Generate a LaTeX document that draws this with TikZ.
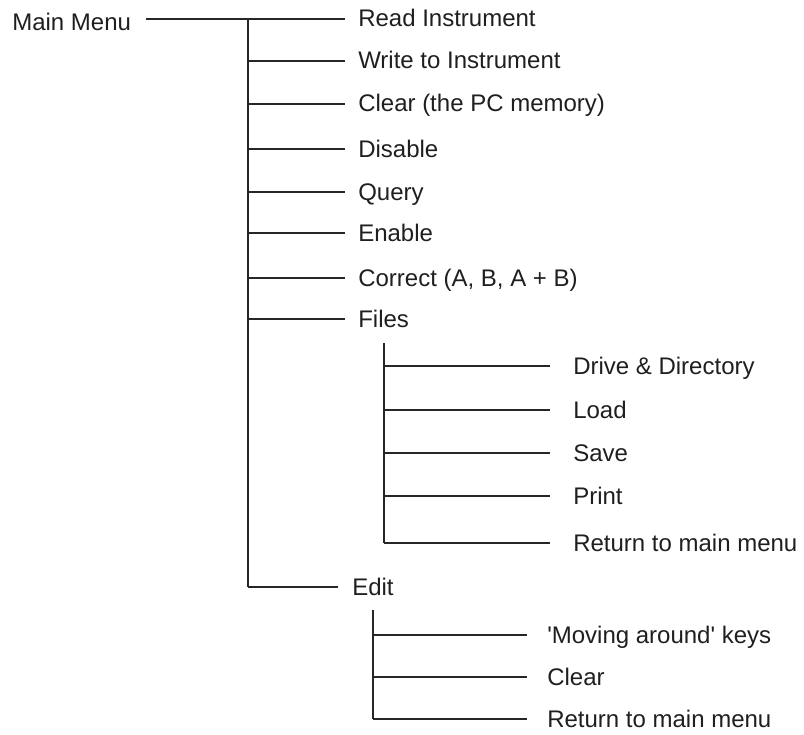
\documentclass[tikz,border=0pt]{standalone}
\usepackage{fontspec}
\newfontfamily\lsans{Liberation Sans}
\begin{document}
\begin{tikzpicture}[x=0.75pt,y=-0.75pt,
  item/.style={anchor=west, inner xsep=0pt, inner ysep=0pt, text height=13pt, text depth=1pt,
               font=\lsans\fontsize{18}{20}\selectfont, text=black!88},
  link/.style={draw=black!85, line width=1.7pt, line cap=butt}]
\useasboundingbox (0,0) rectangle (804,735);
% root
\node[item, text height=18pt, text depth=0pt] (mm) at (12,19) {Main Menu};
\coordinate (t0) at (248,19);
\coordinate (t1) at (248,587);
% main items
\node[item] (ri) at (358,19)  {Read Instrument};
\node[item] (wi) at (358,61)  {Write to Instrument};
\node[item] (cl) at (358,104) {Clear (the PC memory)};
\node[item] (di) at (358,149) {Disable};
\node[item] (qu) at (358,192) {Query};
\node[item] (en) at (358,233) {Enable};
\node[item] (co) at (358,278) {Correct (A, B, A + B)};
\node[item] (fi) at (358,319) {Files};
\node[item] (ed) at (352,587) {Edit};
% files sub items
\coordinate (f0) at (384,343);
\coordinate (f1) at (384,543);
\node[item] (dd) at (573,366) {Drive \& Directory};
\node[item] (lo) at (573,410) {Load};
\node[item] (sa) at (573,453) {Save};
\node[item] (pr) at (573,496) {Print};
\node[item] (rf) at (573,543) {Return to main menu};
% edit sub items
\coordinate (e0) at (373,610);
\coordinate (e1) at (373,719);
\node[item] (mk) at (547,635) {'Moving around' keys};
\node[item] (ec) at (547,677) {Clear};
\node[item] (re) at (547,719) {Return to main menu};
% connectors
\draw[link] ([xshift=11pt]mm.east) -- (t0);
\draw[link] (t0) -- (t1);
\foreach \n in {ri,wi,cl,di,qu,en,co,fi}
  \draw[link] (t0 |- \n.west) -- ([xshift=-9.5pt]\n.west);
\draw[link] (t1) -- ([xshift=-10.5pt]ed.west);
\draw[link] (f0) -- (f1);
\foreach \n in {dd,lo,sa,pr,rf}
  \draw[link] (f0 |- \n.west) -- ([xshift=-17pt]\n.west);
\draw[link] (e0) -- (e1);
\foreach \n in {mk,ec,re}
  \draw[link] (e0 |- \n.west) -- ([xshift=-15pt]\n.west);
\end{tikzpicture}
\end{document}
